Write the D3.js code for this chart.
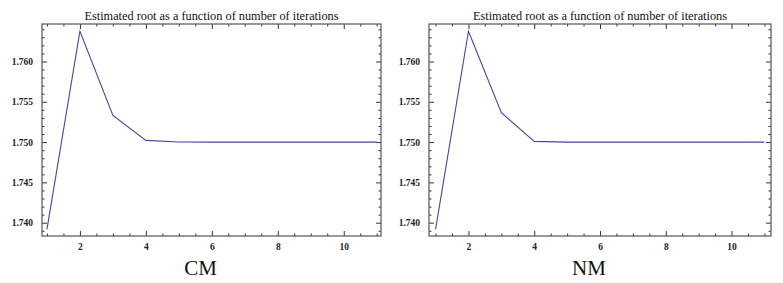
<!DOCTYPE html>
<html><head><meta charset="utf-8">
<script src="https://cdn.jsdelivr.net/npm/d3@7"></script>
<style>body{margin:0;background:#fff}svg{display:block}</style>
</head><body>
<script>
const iterations = [1,2,3,4,5,6,7,8,9,10,11];
const cmValues = [1.73918,1.76375,1.75330,1.75021,1.75001,1.75000,1.75000,1.75000,1.75000,1.75000,1.75000];
const nmValues = [1.73918,1.76375,1.75364,1.75009,1.75000,1.75000,1.75000,1.75000,1.75000,1.75000,1.75000];
const xMajorTicks = [2,4,6,8,10];
const yMajorTicks = [1.740,1.745,1.750,1.755,1.760];
const titleText = "Estimated root as a function of number of iterations";
const panelLabels = ["CM","NM"];

(function(){
const W = 783, H = 283;
const svg = d3.select("body").append("svg").attr("width",W).attr("height",H);

const panels = [
  {values: cmValues, label: panelLabels[0], left: 42, right: 381, xdom: [0.85, 11.13]},
  {values: nmValues, label: panelLabels[1], left: 429, right: 771, xdom: [0.80, 11.20]}
];
const frameTop = 24, frameBottom = 236;
const ydom = [1.73835, 1.76465];
const serif = "'Liberation Serif','DejaVu Serif',serif";

panels.forEach(p => {
  const x = d3.scaleLinear().domain(p.xdom).range([p.left, p.right]);
  const y = d3.scaleLinear().domain(ydom).range([frameBottom, frameTop]);
  const g = svg.append("g");

  const xMinor = d3.range(1, 11.01, 0.5).filter(v => !xMajorTicks.includes(v));
  const yMinor = d3.range(1739, 1764.5, 1).map(v => v/1000).filter(v => !yMajorTicks.some(m => Math.abs(m-v)<1e-9));

  const fmt = d3.format(".3f");
  g.append("g").attr("transform",`translate(0,${frameBottom})`)
    .call(d3.axisBottom(x).tickValues(xMajorTicks).tickSizeInner(-5).tickSizeOuter(0).tickPadding(7))
    .call(a => a.select(".domain").remove());
  g.append("g").attr("transform",`translate(0,${frameBottom})`)
    .call(d3.axisBottom(x).tickValues(xMinor).tickSizeInner(-2.5).tickSizeOuter(0).tickFormat(""))
    .call(a => a.select(".domain").remove());
  g.append("g").attr("transform",`translate(0,${frameTop})`)
    .call(d3.axisTop(x).tickValues(xMajorTicks).tickSizeInner(-5).tickSizeOuter(0).tickFormat(""))
    .call(a => a.select(".domain").remove());
  g.append("g").attr("transform",`translate(0,${frameTop})`)
    .call(d3.axisTop(x).tickValues(xMinor).tickSizeInner(-2.5).tickSizeOuter(0).tickFormat(""))
    .call(a => a.select(".domain").remove());
  g.append("g").attr("transform",`translate(${p.left},0)`)
    .call(d3.axisLeft(y).tickValues(yMajorTicks).tickSizeInner(-5).tickSizeOuter(0).tickPadding(9).tickFormat(fmt))
    .call(a => a.select(".domain").remove());
  g.append("g").attr("transform",`translate(${p.left},0)`)
    .call(d3.axisLeft(y).tickValues(yMinor).tickSizeInner(-2.5).tickSizeOuter(0).tickFormat(""))
    .call(a => a.select(".domain").remove());
  g.append("g").attr("transform",`translate(${p.right},0)`)
    .call(d3.axisRight(y).tickValues(yMajorTicks).tickSizeInner(-5).tickSizeOuter(0).tickFormat(""))
    .call(a => a.select(".domain").remove());
  g.append("g").attr("transform",`translate(${p.right},0)`)
    .call(d3.axisRight(y).tickValues(yMinor).tickSizeInner(-2.5).tickSizeOuter(0).tickFormat(""))
    .call(a => a.select(".domain").remove());

  g.selectAll(".tick line").attr("stroke","#333").attr("stroke-width",1);
  g.selectAll(".tick text").attr("font-family",serif).attr("font-size",9.5).attr("font-weight","bold").attr("fill","#222");

  g.append("rect").attr("x",p.left).attr("y",frameTop).attr("width",p.right-p.left).attr("height",frameBottom-frameTop)
    .attr("fill","none").attr("stroke","#555").attr("stroke-width",1.2);

  const line = d3.line().x((d,i)=>x(iterations[i])).y(d=>y(d));
  g.append("path").datum(p.values).attr("d",line).attr("fill","none")
    .attr("stroke","#4646a0").attr("stroke-width",1.1);

  g.append("text").attr("x",(p.left+p.right)/2).attr("y",20).attr("text-anchor","middle")
    .attr("font-family",serif).attr("font-size",12.3).attr("fill","#111").text(titleText);
  g.append("text").attr("x",(p.left+p.right)/2 - 11).attr("y",275).attr("text-anchor","middle")
    .attr("font-family",serif).attr("font-size",21).attr("fill","#111").text(p.label);
});
})();
</script>
</body></html>
